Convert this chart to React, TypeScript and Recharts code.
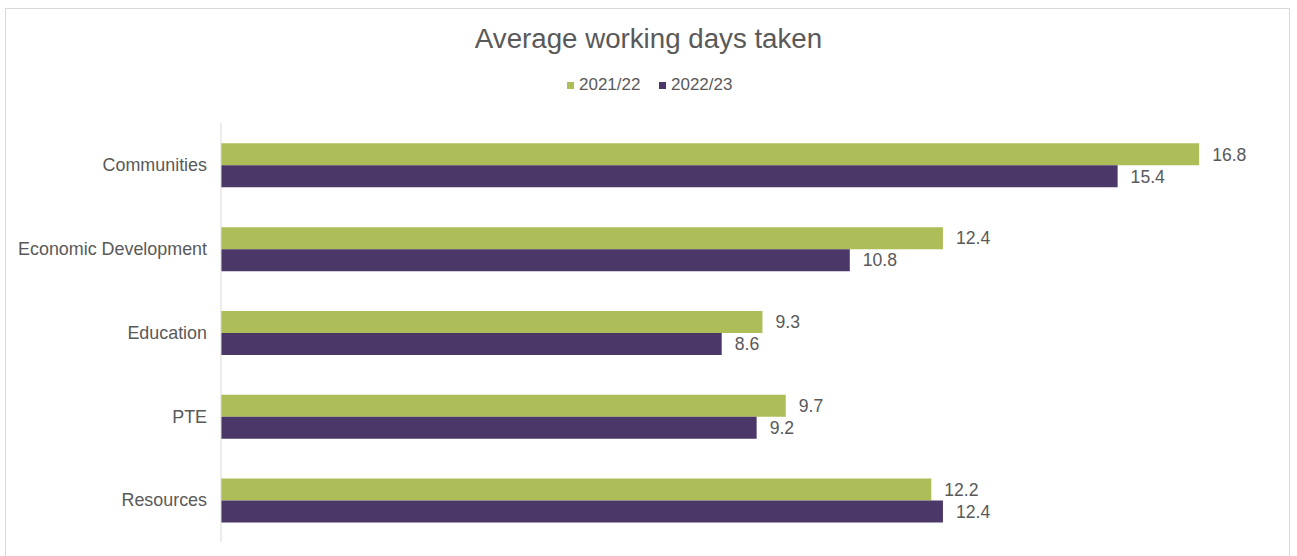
import React from "react";
import { BarChart, Bar, XAxis, YAxis, LabelList } from "recharts";

const categories = ["Communities", "Economic Development", "Education", "PTE", "Resources"];
const series2021 = [16.8, 12.4, 9.3, 9.7, 12.2];
const series2022 = [15.4, 10.8, 8.6, 9.2, 12.4];
const seriesNames = ["2021/22", "2022/23"];
const seriesColors = ["#ADBD58", "#4B3869"];
const title = "Average working days taken";

const data = categories.map((name, i) => ({
  name,
  a: series2021[i],
  b: series2022[i],
}));

const FONT = "'Liberation Sans', Arial, sans-serif";
const TEXT = "#595959";

export default function App() {
  return (
    <div style={{ position: "absolute", left: 0, top: 0, width: 1297, height: 556, background: "#fff", overflow: "hidden", fontFamily: FONT }}>
      <div style={{ position: "absolute", left: 5, top: 8, width: 1285, height: 600, border: "1px solid #d9d9d9", boxSizing: "border-box" }} />
      <div style={{ position: "absolute", left: 0, top: 0 }}>
        <BarChart
          width={1297}
          height={556}
          data={data}
          layout="vertical"
          margin={{ top: 123, right: 28, bottom: 14, left: 0 }}
          barCategoryGap="24.3%"
          barGap={0}
        >
          <XAxis type="number" domain={[0, 18]} hide />
          <YAxis
            type="category"
            dataKey="name"
            width={221}
            axisLine={{ stroke: "#d9d9d9", strokeWidth: 1 }}
            tickLine={false}
            tickMargin={8}
            tick={{ fill: TEXT, fontSize: 17.9, fontFamily: FONT }}
            interval={0}
          />
          <Bar dataKey="a" name={seriesNames[0]} fill={seriesColors[0]} isAnimationActive={false}>
            <LabelList dataKey="a" position="right" offset={13} fill={TEXT} fontSize={17.6} fontFamily={FONT} />
          </Bar>
          <Bar dataKey="b" name={seriesNames[1]} fill={seriesColors[1]} isAnimationActive={false}>
            <LabelList dataKey="b" position="right" offset={13} fill={TEXT} fontSize={17.6} fontFamily={FONT} />
          </Bar>
        </BarChart>
      </div>
      <svg width={1297} height={556} style={{ position: "absolute", left: 0, top: 0, pointerEvents: "none" }}>
        <text x={648.5} y={48} textAnchor="middle" fontSize={27.7} fill={TEXT} fontFamily={FONT}>
          {title}
        </text>
        <rect x={567} y={82} width={7} height={7} fill={seriesColors[0]} />
        <text x={579} y={90} fontSize={17} fill={TEXT} fontFamily={FONT}>{seriesNames[0]}</text>
        <rect x={659} y={82} width={7} height={7} fill={seriesColors[1]} />
        <text x={671} y={90} fontSize={17} fill={TEXT} fontFamily={FONT}>{seriesNames[1]}</text>
      </svg>
    </div>
  );
}
